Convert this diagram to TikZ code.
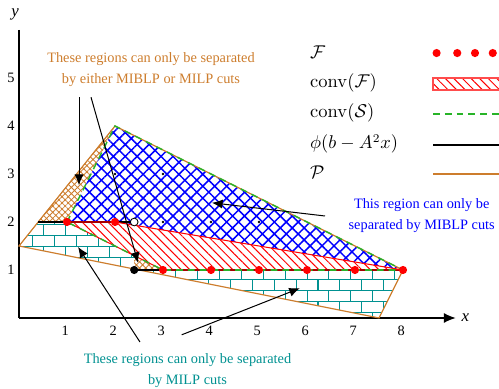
\documentclass[tikz,border=0pt]{standalone}
\usepackage{amsmath,amssymb}
\usepackage[no-math]{fontspec}
\newfontfamily\timesfam{Liberation Serif}
\usetikzlibrary{arrows.meta,patterns,patterns.meta}
\definecolor{cP}{RGB}{205,125,45}
\definecolor{cS}{RGB}{40,180,40}
\definecolor{cF}{RGB}{255,0,0}
\definecolor{cMib}{RGB}{0,0,255}
\definecolor{cMilp}{RGB}{0,145,145}
% bricks, a bit flatter than the library ones
\pgfdeclarepatternformonly{wall}{\pgfpoint{-0.5pt}{-0.5pt}}{\pgfpoint{13.5pt}{13.5pt}}{\pgfpoint{13pt}{13pt}}{
  \pgfsetlinewidth{0.6pt}
  \pgfpathmoveto{\pgfpoint{0pt}{0pt}}\pgfpathlineto{\pgfpoint{13pt}{0pt}}
  \pgfpathmoveto{\pgfpoint{0pt}{6.5pt}}\pgfpathlineto{\pgfpoint{13pt}{6.5pt}}
  \pgfpathmoveto{\pgfpoint{0pt}{0pt}}\pgfpathlineto{\pgfpoint{0pt}{6.5pt}}
  \pgfpathmoveto{\pgfpoint{6.5pt}{6.5pt}}\pgfpathlineto{\pgfpoint{6.5pt}{13pt}}
  \pgfusepath{stroke}}
\tikzset{
  lbl/.style={font=\timesfam\fontsize{8.5}{12.5}\selectfont,align=center,inner sep=1pt},
  tick/.style={font=\timesfam\fontsize{8.5}{10}\selectfont,inner sep=1pt},
  leg/.style={font=\fontsize{10.5}{12}\selectfont,anchor=west,inner sep=0pt},
  ar/.style={-{Latex[length=2.2mm,width=1.9mm]},line width=0.6pt},
  fpt/.style={circle,fill=cF,inner sep=0pt,minimum size=1.7mm},
  ipt/.style={circle,fill=black,inner sep=0pt,minimum size=0.6mm},
  bnd/.style={line width=1.5pt},
  milpreg/.style={pattern=wall,pattern color=cMilp},
  bothreg/.style={pattern={Hatch[angle=45,distance=2.6pt,line width=0.5pt]},pattern color=cP},
  mibreg/.style={pattern={Hatch[angle=45,distance=5pt,line width=0.9pt]},pattern color=cMib},
  convF/.style={pattern={Lines[angle=-45,distance=3.6pt,line width=0.6pt]},pattern color=cF},
  convS/.style={draw=cS,line width=0.9pt,dash pattern=on 4pt off 3pt},
}

\begin{document}
\begin{tikzpicture}[x=1cm,y=1cm]
  \clip (-0.396,-1.479) rectangle (10.0,6.625);

  % regions
  \fill[milpreg] (0,1.5) -- (0.4,2) -- (1,2) -- (2.4,1.3) -- (2.4,1) -- (3,1)
    -- (8,1) -- (7.5,0) -- cycle;
  \fill[bothreg] (0.4,2) -- (2,4) -- (1,2) -- cycle;
  \fill[bothreg] (2.4,1) -- (2.4,1.3) -- (3,1) -- cycle;
  \fill[mibreg] (1,2) -- (2,4) -- (8,1) -- (2,2) -- cycle;
  \fill[convF] (1,2) -- (2,2) -- (8,1) -- (3,1) -- cycle;

  % axes
  \draw[line width=0.8pt] (0,6) -- (0,0);
  \draw[line width=0.8pt,-{Latex[length=2.5mm,width=2.1mm]}] (0,0) -- (9.1,0);
  \node[tick,font=\timesfam\itshape\fontsize{10}{12}\selectfont,anchor=west] (xl) at (9.18,0) {x};
  \node[tick,font=\timesfam\itshape\fontsize{10}{12}\selectfont] (yl) at (-0.08,6.33) {y};
  \foreach \k in {1,...,8}
    \node[tick] (xt\k) at (\k-0.04,-0.27) {\k};
  \foreach \k in {1,...,5}
    \node[tick] (yt\k) at (-0.17,\k) {\k};

  % boundaries
  \draw[cP,line width=0.7pt] (0,1.5) -- (2,4) -- (8,1) -- (7.5,0) -- cycle;
  \draw[bnd] (0.4,2) -- (2.4,2);
  \draw[bnd] (2.4,1) -- (8,1);
  \draw[cF,line width=0.6pt] (1,2) -- (2,2) -- (8,1) -- (3,1) -- cycle;
  \draw[convS] (1,2) -- (2,4) -- (8,1) -- (3,1) -- cycle;

  % points
  \foreach \px/\py [count=\k] in {2/3,3/3,3/2,4/2,5/2}
    \node[ipt] (in\k) at (\px,\py) {};
  \node[fpt] (f1) at (1,2) {};
  \node[fpt] (f2) at (2,2) {};
  \foreach \k in {3,...,8}
    \node[fpt] (f\k) at (\k,1) {};
  \node[circle,fill=black,inner sep=0pt,minimum size=1.7mm] (low) at (2.4,1) {};
  \node[circle,draw=black,fill=white,line width=0.5pt,inner sep=0pt,minimum size=1.6mm] (up) at (2.4,2) {};

  % notes
  \node[lbl,text=cP] (both) at (2.75,5.17)
    {These regions can only be separated\\by either MIBLP or MILP cuts};
  \node[lbl,text=cMib] (mib) at (8.39,2.135)
    {This region can only be\\separated by MIBLP cuts};
  \node[lbl,text=cMilp] (milp) at (3.51,-1.09)
    {These regions can only be separated\\by MILP cuts};

  \coordinate (b1) at (1.25,4.6);
  \coordinate (b2) at (1.5,4.6);
  \coordinate (bt1) at (1.25,2.77);
  \coordinate (bt2) at (2.48,1.15);
  \coordinate (m1) at (6.375,2.125);
  \coordinate (mt) at (4.02,2.4);
  \coordinate (l1) at (2.52,-0.5);
  \coordinate (l2) at (3.39,-0.35);
  \coordinate (lt1) at (1.23,1.48);
  \coordinate (lt2) at (5.85,0.62);
  \draw[ar] (b1) -- (bt1);
  \draw[ar] (b2) -- (bt2);
  \draw[ar] (m1) -- (mt);
  \draw[ar] (l1) -- (lt1);
  \draw[ar] (l2) -- (lt2);

  % legend
  \node[leg] (legF) at (6.06,5.54) {$\mathcal{F}$};
  \node[leg] (legCF) at (6.06,4.9) {$\mathrm{conv}(\mathcal{F})$};
  \node[leg] (legCS) at (6.06,4.27) {$\mathrm{conv}(\mathcal{S})$};
  \node[leg] (legPhi) at (6.06,3.625) {$\phi(b-A^2x)$};
  \node[leg] (legP) at (6.06,3.03) {$\mathcal{P}$};
  \foreach \xx [count=\k] in {8.7,9.13,9.5,9.87}
    \node[fpt] (ldot\k) at (\xx,5.52) {};
  \fill[convF] (8.625,4.75) rectangle (10.3,5.0);
  \draw[cF!70,line width=0.6pt] (8.625,4.75) rectangle (10.3,5.0);
  \draw[convS,line width=1.2pt] (8.625,4.26) -- (10.3,4.26);
  \draw[line width=1.4pt] (8.625,3.61) -- (10.3,3.61);
  \draw[cP,line width=1.2pt] (8.625,3.01) -- (10.3,3.01);
\end{tikzpicture}
\end{document}
